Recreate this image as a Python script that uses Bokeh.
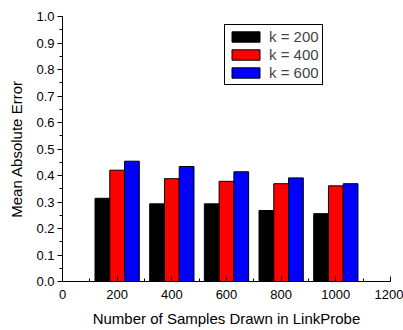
from bokeh.plotting import figure
from bokeh.models import SingleIntervalTicker, Legend, LegendItem, Range1d, CustomJSTickFormatter
from bokeh.embed import file_html
from bokeh.resources import INLINE

samples = [200, 400, 600, 800, 1000]
k200 = [0.314, 0.293, 0.293, 0.268, 0.256]
k400 = [0.420, 0.388, 0.378, 0.369, 0.361]
k600 = [0.454, 0.434, 0.414, 0.391, 0.369]
series_labels = ["k = 200", "k = 400", "k = 600"]
colors = ["#000000", "#ff0000", "#0000ff"]

FONT = "Liberation Sans"

p = figure(width=403, height=330, output_backend="svg", toolbar_location=None,
           x_range=Range1d(0, 1200), y_range=Range1d(0, 1.0))
p.min_border_left = 62
p.min_border_right = 13
p.min_border_top = 16
p.min_border_bottom = 49
p.outline_line_color = None
p.xgrid.visible = False
p.ygrid.visible = False
p.background_fill_color = "white"
p.border_fill_color = "white"

bw = 54
offsets = [-bw, 0, bw]
renderers = []
for vals, off, c in zip([k200, k400, k600], offsets, colors):
    r = p.vbar(x=[s + off for s in samples], top=vals, width=bw, bottom=0,
               fill_color=c, line_color="black", line_width=1)
    renderers.append(r)

legend = Legend(items=[LegendItem(label=l, renderers=[r]) for l, r in zip(series_labels, renderers)],
                location=(162, 196), label_text_font=FONT, label_text_font_size="15px",
                glyph_width=35, glyph_height=13, label_standoff=6, spacing=1,
                padding=3, margin=0, border_line_color="black", border_line_width=1,
                border_line_alpha=1, label_height=13, background_fill_alpha=1)
p.add_layout(legend)

p.xaxis.ticker = SingleIntervalTicker(interval=200, num_minor_ticks=2)
p.yaxis.ticker = SingleIntervalTicker(interval=0.1, num_minor_ticks=2)
p.yaxis.formatter = CustomJSTickFormatter(code="return tick.toFixed(1);")

for ax in (p.xaxis[0], p.yaxis[0]):
    ax.axis_line_color = "black"
    ax.major_tick_line_color = "black"
    ax.minor_tick_line_color = "black"
    ax.major_label_text_font = FONT
    ax.major_label_text_font_size = "13px"
    ax.major_label_text_color = "black"
    ax.axis_label_text_font = FONT
    ax.axis_label_text_font_size = "15px"
    ax.axis_label_text_font_style = "normal"
    ax.axis_label_text_color = "black"

p.xaxis.major_tick_in = 5
p.xaxis.major_tick_out = 0
p.xaxis.minor_tick_in = 3
p.xaxis.minor_tick_out = 0
p.xaxis.major_label_standoff = 8
p.xaxis.axis_label = "Number of Samples Drawn in LinkProbe"
p.xaxis.axis_label_standoff = 8

p.yaxis.major_tick_in = 0
p.yaxis.major_tick_out = 5
p.yaxis.minor_tick_in = 0
p.yaxis.minor_tick_out = 3
p.yaxis.major_label_standoff = 3
p.yaxis.axis_label = "Mean Absolute Error"
p.yaxis.axis_label_standoff = 8

open("out.html", "w").write(file_html(p, INLINE))
